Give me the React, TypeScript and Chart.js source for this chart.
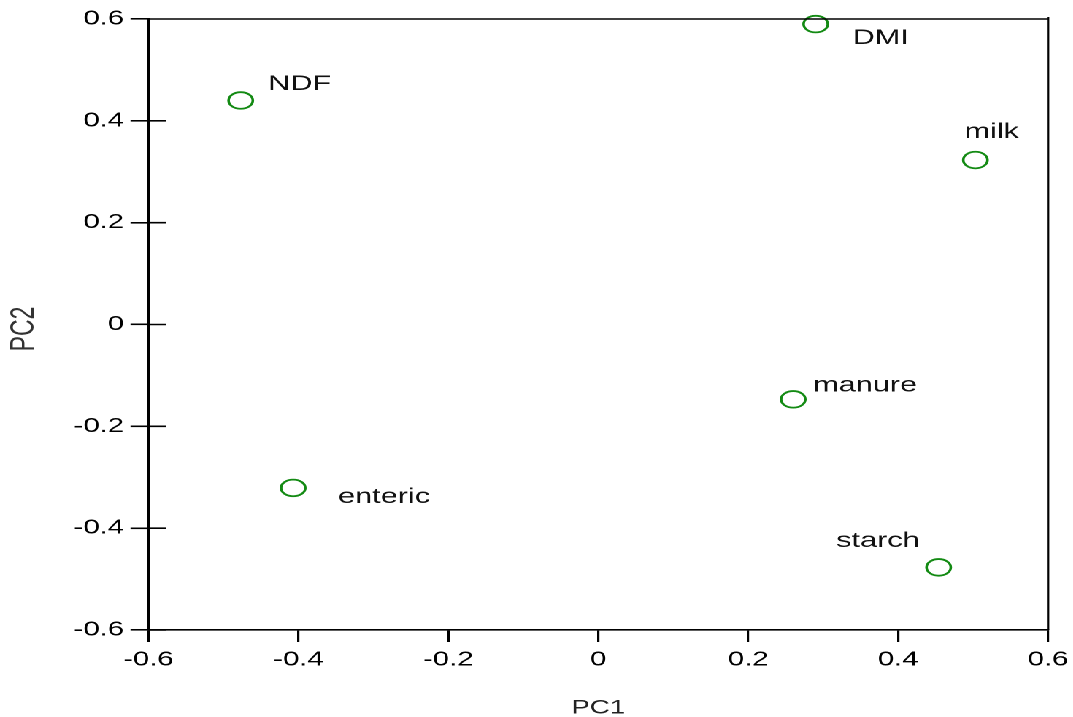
import { useEffect, useRef } from 'react';
import { Chart, registerables } from 'chart.js';

Chart.register(...registerables);

// ---- data ----
const variables = ['NDF', 'DMI', 'milk', 'manure', 'enteric', 'starch'];
const pc1 = [-0.477, 0.29, 0.503, 0.26, -0.407, 0.454];
const pc2 = [0.44, 0.59, 0.323, -0.147, -0.321, -0.477];
const xTickValues = [-0.6, -0.4, -0.2, 0, 0.2, 0.4, 0.6];
const yTickValues = [-0.6, -0.4, -0.2, 0, 0.2, 0.4, 0.6];
const xTitle = 'PC1';
const yTitle = 'PC2';

// ---- layout / style (kept apart from data) ----
const STRETCH = 1.46; // the reference picture is horizontally stretched
const CW = 735;
const CH = 717;
const FONT = "'Liberation Sans', Arial, sans-serif";
const GREEN = '#138a13';
const LINE_W = 1.6;
const labelOffsets: Record<string, [number, number]> = {
  NDF: [18.8, -10.5],
  DMI: [25.3, 20],
  milk: [-7.5, -22],
  manure: [13.7, -8],
  enteric: [30.8, 15],
  starch: [-70.2, -20.5],
};

const fmt = (v: number) => {
  const r = Math.round(v * 10) / 10;
  return r === 0 ? '0' : r.toFixed(1);
};

const framePlugin = {
  id: 'frame',
  afterDraw(chart: any) {
    const { ctx, chartArea } = chart;
    const { left, right, top, bottom } = chartArea;
    const ys = chart.scales.y;
    ctx.save();
    ctx.strokeStyle = '#000';
    ctx.lineWidth = LINE_W;
    ctx.beginPath();
    ctx.moveTo(left, top);
    ctx.lineTo(right, top);
    ctx.moveTo(right, top - 2);
    ctx.lineTo(right, bottom);
    // inner halves of the y ticks
    yTickValues.forEach((v) => {
      const py = ys.getPixelForValue(v);
      ctx.moveTo(left, py);
      ctx.lineTo(left + 12.3, py);
    });
    ctx.stroke();

    // axis titles
    ctx.fillStyle = '#222';
    ctx.font = `19px ${FONT}`;
    ctx.textAlign = 'center';
    ctx.textBaseline = 'middle';
    ctx.fillText(xTitle, (left + right) / 2, 708.5);

    ctx.save();
    ctx.translate(16.8, 329);
    ctx.rotate(-Math.PI / 2);
    ctx.fillStyle = '#333';
    ctx.font = `23px ${FONT}`;
    ctx.fillText(yTitle, 0, 0);
    ctx.restore();
    ctx.restore();
  },
};

const labelPlugin = {
  id: 'pointLabels',
  afterDatasetsDraw(chart: any) {
    const { ctx } = chart;
    const meta = chart.getDatasetMeta(0);
    ctx.save();
    ctx.fillStyle = '#111';
    ctx.font = `21px ${FONT}`;
    ctx.textAlign = 'left';
    ctx.textBaseline = 'alphabetic';
    meta.data.forEach((el: any, i: number) => {
      const name = variables[i];
      const [dx, dy] = labelOffsets[name] || [10, -10];
      ctx.fillText(name, el.x + dx, el.y + dy);
    });
    ctx.restore();
  },
};

export default function App() {
  const ref = useRef<HTMLCanvasElement | null>(null);

  useEffect(() => {
    if (!ref.current) return;
    const chart = new Chart(ref.current, {
      type: 'scatter',
      data: {
        datasets: [
          {
            label: 'loadings',
            data: pc1.map((x, i) => ({ x, y: pc2[i] })),
            pointStyle: 'circle',
            pointRadius: 8.3,
            pointHoverRadius: 8.3,
            borderWidth: 1.8,
            borderColor: GREEN,
            backgroundColor: 'rgba(0,0,0,0)',
            clip: false as any,
          },
        ],
      },
      options: {
        responsive: false,
        animation: false,
        devicePixelRatio: 2,
        events: [],
        layout: { padding: { top: 19, right: 17.1, left: 0, bottom: 0 } },
        plugins: {
          legend: { display: false },
          tooltip: { enabled: false },
        },
        scales: {
          x: {
            type: 'linear',
            min: -0.6,
            max: 0.6,
            afterFit: (s: any) => {
              s.height = 87;
              s.paddingLeft = 0;
              s.paddingRight = 0;
            },
            afterBuildTicks: (s: any) => {
              s.ticks = xTickValues.map((v) => ({ value: v }));
            },
            ticks: {
              color: '#000',
              font: { family: FONT, size: 20 },
              padding: 6,
              maxRotation: 0,
              autoSkip: false,
              callback: (v: any) => fmt(Number(v)),
            },
            grid: {
              drawOnChartArea: false,
              drawTicks: true,
              tickLength: 12,
              color: '#000',
              lineWidth: LINE_W,
            },
            border: { display: true, color: '#000', width: LINE_W },
          },
          y: {
            type: 'linear',
            min: -0.6,
            max: 0.6,
            afterFit: (s: any) => {
              s.width = 101.7;
              s.paddingTop = 0;
              s.paddingBottom = 0;
            },
            afterBuildTicks: (s: any) => {
              s.ticks = yTickValues.map((v) => ({ value: v }));
            },
            ticks: {
              color: '#000',
              font: { family: FONT, size: 20 },
              padding: 4.5,
              autoSkip: false,
              callback: (v: any) => fmt(Number(v)),
            },
            grid: {
              drawOnChartArea: false,
              drawTicks: true,
              tickLength: 12.3,
              color: '#000',
              lineWidth: LINE_W,
            },
            border: { display: true, color: '#000', width: LINE_W },
          },
        },
      },
      plugins: [framePlugin, labelPlugin],
    });
    return () => chart.destroy();
  }, []);

  return (
    <div
      style={{
        position: 'absolute',
        left: 0,
        top: 0,
        width: CW,
        height: CH,
        transform: `scaleX(${STRETCH})`,
        transformOrigin: '0 0',
        background: '#fff',
      }}
    >
      <canvas ref={ref} width={CW} height={CH} style={{ display: 'block' }} />
    </div>
  );
}
